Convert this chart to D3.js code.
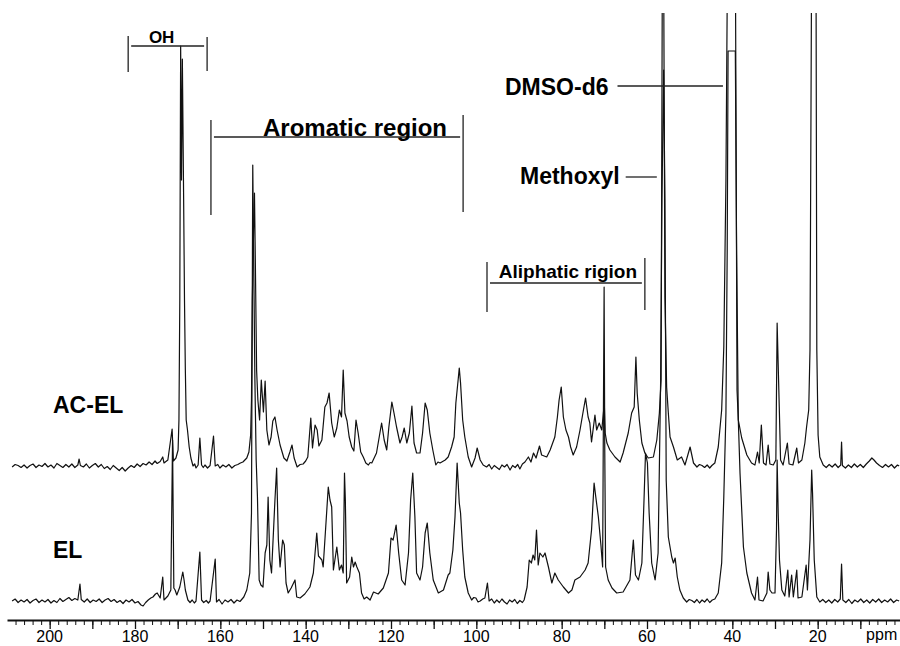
<!DOCTYPE html>
<html>
<head>
<meta charset="utf-8">
<script src="https://cdn.jsdelivr.net/npm/d3@7"></script>
<style>
body { margin: 0; background: #fff; }
svg { display: block; }
</style>
</head>
<body>
<svg id="chart"></svg>
<script>
// 13C NMR traces, [ppm, intensity] (arbitrary units)
var acelSpectrum = [
  [208.8,-0.2],[208.1,0.3],[207.4,0.1],[206.7,-0.3],[206.0,0.2],[205.3,-0.4],[204.6,0.1],[203.9,0.4],[203.2,-0.3],[202.5,0.2],
  [201.8,-0.1],[201.1,0.5],[200.4,-0.2],[199.7,0.2],[199.0,-0.4],[198.3,0.5],[197.6,0.1],[196.9,-0.3],[196.2,0.3],[195.5,-0.2],
  [194.8,0.4],[194.1,-0.3],[193.4,0.2],[193.1,1.4],[192.8,0.1],[192.1,-0.2],[191.4,0.4],[190.7,-0.4],[190.0,0.1],[189.3,0.5],
  [188.6,-0.2],[187.9,0.3],[187.2,-0.5],[186.5,-0.1],[185.8,-0.7],[185.1,0.1],[184.4,-0.4],[183.7,-0.9],[183.0,-0.3],[182.3,-1.0],
  [181.6,-0.4],[180.9,0.1],[180.2,-0.3],[179.5,0.4],[178.8,-0.1],[178.1,0.5],[177.4,0.2],[176.7,0.8],[176.0,0.3],[175.3,1.0],
  [174.8,0.5],[174.1,0.9],[173.5,1.8],[173.2,0.6],[172.3,1.2],[171.3,7.4],
  [171.0,1.0],[170.4,1.6],[169.9,3.2],[169.7,9.2],[169.5,33.2],[169.3,84],[169.1,57.2],[168.9,81.4],[168.6,53.2],[168.4,33.2],
  [168.2,19.2],[168.0,9.2],[167.7,7.2],[167.3,3.8],[166.9,1.6],[166.4,0],[166.0,0.4],[165.7,-0.4],[165.2,0.2],[164.8,5.6],
  [164.4,0.2],[164.0,-0.3],[163.6,0.2],[163.0,-0.4],[162.4,0.1],[161.6,6.0],[161.2,0],[160.6,0.3],[160.1,-0.4],[159.4,0.2],
  [158.7,-0.2],[158.0,0.3],[157.3,-0.4],[156.6,0.1],[155.9,0.3],[155.3,0.6],[154.7,0.8],[153.8,1.6],
  [153.3,2.8],[152.9,6.2],[152.7,13.2],[152.5,33.2],[152.2,47.2],[152.0,54.6],[151.8,41.2],[151.5,19.2],[151.2,13.2],[150.8,9.2],
  [150.4,17.2],[149.9,10.8],[149.5,17.0],[149.1,7.2],[148.6,4.2],[148.1,5.8],[147.7,9.0],[147.2,9.8],[146.7,7.2],[146.0,4.2],
  [145.1,1.6],[144.4,1.0],[143.7,2.8],[143.2,4.2],[142.7,1.6],[142.0,-0.2],[141.3,0.3],[140.6,0.4],[140.0,1.0],[139.5,1.8],[138.8,9.6],[138.4,3.6],
  [137.8,8.2],[137.3,7.2],[136.9,4.0],[136.2,5.2],[135.5,11.8],[135.0,12.6],[134.5,14.6],[133.9,8.6],[133.3,5.8],[132.7,7.6],
  [132.1,11.2],[131.6,9.8],[131.2,19.2],[130.8,10.6],[130.3,9.0],[129.8,5.8],[129.2,3.8],[128.7,3.0],[128.2,9.2],[127.7,6.6],
  [127.1,2.8],[126.5,1.8],[125.9,0.6],[125.3,0.2],[124.9,0.7],[124.5,0.6],[123.4,2.6],[122.6,6.6],[122.2,8.6],[121.6,5.2],[121.0,3.2],[120.5,7.8],
  [119.8,12.8],[119.3,10.6],[118.7,7.8],[117.9,4.6],[117.4,5.8],[116.9,7.6],[116.3,4.6],[115.7,6.6],[115.1,12.0],[114.6,4.6],
  [114.0,2.6],[113.2,2.6],[112.6,6.6],[112.0,12.6],[111.5,11.2],[110.9,6.6],[110.2,3.2],[109.5,0.2],[109.0,0.8],[108.5,0.6],[107.3,1.2],
  [106.6,1.8],[105.8,3.8],[105.2,5.8],[104.8,12.6],[104.2,17.8],[104.0,19.6],[103.7,16.6],[103.2,9.2],[102.7,5.8],[101.9,1.8],
  [101.1,-0.2],[100.3,1.6],[99.8,3.6],[99.1,1.2],[98.4,0.2],[97.6,-0.2],[97.0,0.3],[96.4,-0.6],[95.8,0.1],[95.2,-0.3],
  [94.6,-0.7],[94.0,0.2],[93.4,-0.2],[92.8,0.3],[92.1,-0.8],[91.5,0.1],[90.9,-0.3],[90.3,0.3],[89.8,-0.6],[89.2,0.4],
  [88.6,0.8],[87.8,1.8],[87.2,0.8],[86.6,2.6],[86.0,1.6],[85.2,4.0],[84.7,2.2],
  [83.5,1.8],[82.7,3.2],[81.6,5.8],[81.0,9.8],[80.6,13.2],[80.1,15.8],[79.6,9.8],[79.0,7.2],[78.4,5.8],[77.9,3.8],
  [77.3,2.2],[76.5,3.8],[75.7,7.2],[74.9,11.2],[74.4,13.6],[73.8,9.8],[73.4,8.6],[73.0,4.8],[72.2,10.2],[71.8,7.2],
  [71.2,8.6],[70.6,7.2],[70.2,10.8],[70.0,12.2],[69.8,6.6],[69.4,4.6],[68.7,3.2],[67.5,1.8],[66.3,0.8],[65.6,2.6],
  [64.4,6.6],[63.6,10.6],[63.0,11.8],[62.6,21.8],[62.3,14.6],[61.8,9.2],[61.2,4.6],[60.5,2.6],[59.7,1.6],[58.5,1.8],
  [57.7,5.2],[57.1,10.6],[56.7,17.2],[56.4,101.2],[56.1,101.2],[55.8,33.8],[55.4,15.8],[55.0,10.6],[54.6,5.8],[53.8,3.8],
  [52.9,1.2],[51.9,1.8],[51.1,0.2],[49.9,3.8],[49.1,0.6],[48.3,-0.2],[47.7,0.3],[47.1,0.1],[46.5,-0.3],[45.9,0.2],
  [45.3,-0.4],[44.8,0.1],[44.1,0.6],
  [43.3,3.8],[42.5,11.2],[42.0,23.8],[41.5,57.2],[41.1,105.2],[39.3,105.2],[38.9,15.2],[38.6,9.2],[37.8,5.6],[36.6,2.2],
  [35.5,0.6],[34.7,0.2],[34.1,2.8],[33.7,0.6],[33.2,8.2],[32.7,0.6],[32.1,0.2],[31.6,4.2],[31.2,0.4],[30.4,0.2],
  [29.8,1.2],[29.5,28.6],[29.0,11.8],[28.7,1.2],[28.1,0.2],[27.1,4.6],[26.7,0.4],[25.8,0.2],[24.9,3.6],[24.5,0.6],
  [23.7,1.2],[23.0,4.6],[22.6,7.8],[22.1,11.2],[21.8,23.2],[21.4,105.2],[20.4,105.2],[20.2,23.2],[19.9,6.2],[19.5,1.8],
  [18.7,0.2],[18.0,-0.3],[17.3,0.3],[16.6,-0.2],[15.9,0.4],[15.2,-0.3],[14.6,0.2],[14.4,4.8],[14.2,0.1],[13.5,-0.4],
  [12.8,0.2],[12.1,-0.3],[11.4,0.4],[10.7,-0.2],[10.0,0.3],[9.3,-0.3],[8.6,0.4],[7.9,1.0],[7.3,1.6],[6.8,1.2],
  [6.2,0.6],[5.5,0.1],[4.8,-0.3],[4.1,0.3],[3.4,-0.2],[2.7,0.3],[2.0,-0.4],[1.3,0.2],[0.9,0]
];

var elSpectrum = [
  [208.8,0],[208.1,0.4],[207.4,-0.3],[206.7,0.2],[206.0,-0.2],[205.3,0.3],[204.6,-0.4],[203.9,0.1],[203.2,0.4],[202.5,-0.3],
  [201.8,0.2],[201.1,-0.2],[200.4,0.3],[199.7,-0.4],[199.0,0.1],[198.3,-0.3],[197.6,0.5],[196.9,-0.1],[196.2,0.3],[195.5,0.7],
  [194.8,0.1],[194.1,0.5],[193.4,0.2],[192.9,3.4],[192.6,0.3],[191.9,-0.2],[191.2,0.4],[190.5,-0.3],[189.8,0.2],[189.1,-0.1],
  [188.4,0.4],[187.7,-0.3],[187.0,0.2],[186.3,0.5],[185.6,-0.1],[184.9,0.3],[184.2,-0.3],[183.5,0.1],[182.8,-0.5],[182.1,0.2],
  [181.4,-0.2],[180.7,0.3],[180.0,-0.4],[179.3,-0.1],[178.6,-0.8],[178.1,-1.0],[177.5,-0.3],[176.9,0.2],[176.3,0.6],[175.8,0.8],
  [175.2,1.4],[174.8,1.6],[174.1,0.6],[173.5,4.8],[173.2,0.2],
  [172.3,1.0],[171.6,2.2],[171.2,32.2],[170.9,2.6],[170.6,2.2],[170.2,1.2],[169.5,2.8],[168.8,5.8],[168.5,4.2],[168.2,2.2],
  [167.6,0.2],[167.1,-0.3],[166.6,0.2],[166.1,-0.4],[165.7,0],[164.8,9.8],[164.4,0.2],[163.9,-0.3],[163.3,0.1],[162.8,-0.4],
  [162.4,0],[161.2,8.4],[160.9,-0.2],[160.3,0.3],[159.6,-0.6],[158.9,0.2],[158.2,-0.2],[157.5,0.3],[156.8,-0.4],[156.1,0.2],
  [155.4,-0.1],[154.5,0.8],[153.8,2.2],[153.1,5.6],[152.7,17.6],[152.4,87.2],[152.2,70.2],[151.9,44.2],
  [151.6,28.2],[151.3,20.8],[150.9,4.2],[150.5,3.2],[150.0,2.8],[149.5,9.6],[149.1,11.2],[148.8,20.8],[148.4,8.2],[148.0,5.6],
  [147.2,20.2],[146.8,26.6],[146.4,12.2],[146.0,6.8],[145.4,12.2],[145.0,11.2],[144.6,3.6],[144.1,1.6],[143.4,2.6],[142.5,4.2],
  [142.1,0.8],[141.3,0.6],[140.2,1.4],[139.0,2.8],[138.2,5.6],[137.4,13.6],[137.0,9.0],[136.2,8.2],[135.9,6.8],[135.3,14.8],
  [134.7,22.8],[134.3,20.2],[133.9,18.8],[133.5,6.2],[132.7,10.8],[132.1,6.2],[131.6,7.2],[131.2,5.6],[130.9,25.6],[130.7,20.2],
  [130.4,3.6],[129.7,4.8],[129.2,8.8],[128.8,6.8],[128.4,7.8],[128.0,6.8],[127.4,5.6],[126.9,1.6],[126.3,0.4],[125.7,0.8],[124.9,0.2],[124.1,1.8],
  [123.0,1.4],[121.8,2.6],[120.6,5.6],[120.0,12.6],[119.5,12.2],[118.8,15.2],[118.2,9.6],[117.5,4.2],[116.7,3.2],[115.9,9.6],
  [115.4,20.2],[114.9,25.6],[114.4,16.8],[114.0,5.6],[113.2,4.2],[112.6,6.8],[112.0,13.6],[111.5,15.6],[110.9,9.6],[110.1,4.2],
  [108.9,1.6],[107.7,2.2],[106.6,5.2],[106.2,5.6],[105.5,10.2],[105.0,16.8],[104.5,27.6],[104.0,19.6],[103.7,17.6],[103.2,10.2],
  [102.7,4.8],[101.9,1.6],[101.1,0.2],[100.6,0.7],[100.1,0.6],[99.6,-0.2],[99.1,0],[98.5,0.4],[98.0,0.6],[97.4,3.6],
  [97.0,0],[96.4,0.4],[95.8,-0.4],[95.2,0.2],[94.6,-0.3],[94.0,0.4],[93.4,-0.2],[92.8,-0.6],[92.2,0.2],[91.6,-0.2],
  [91.0,0.3],[90.4,-0.5],[89.8,0.1],[89.2,-0.3],[88.8,0.2],
  [88.1,2.8],[87.6,8.2],[87.1,7.6],[86.7,9.2],[86.3,8.2],[85.9,14.2],
  [85.5,7.2],[85.1,9.6],[84.4,8.8],[83.9,9.6],[83.1,6.8],[82.3,3.6],[81.6,5.6],[80.8,4.2],[79.6,2.8],[78.4,1.6],
  [77.6,2.2],[76.9,4.2],[75.7,4.8],[74.5,6.2],[73.8,7.6],[73.0,14.2],[72.4,23.6],[72.0,20.8],[71.4,16.8],[70.8,11.2],
  [70.4,6.8],[70.2,40.2],[70.05,62.8],[69.9,30.2],[69.7,6.8],[69.1,4.2],[68.2,2.6],[67.1,1.6],[65.6,1.8],[64.0,4.2],
  [63.2,12.2],[62.7,5.2],[62.0,4.2],[61.2,7.6],[60.7,20.2],[60.35,29.6],[59.9,27.6],[59.5,17.6],[58.9,7.6],[58.1,4.2],
  [57.4,9.6],[56.8,44.2],[56.5,80.2],[56.1,106.2],[55.8,80.2],[55.5,24.2],[55.0,12.8],[54.2,8.8],[53.8,7.6],[53.4,8.6],
  [52.9,4.8],[52.3,2.2],[51.5,0.6],[50.7,-0.2],[50.1,0.3],[49.5,0.1],[48.9,-0.3],[48.3,0.3],[47.7,-0.4],[47.1,0.2],
  [46.5,-0.2],[45.9,0.4],[45.3,-0.3],[44.7,0.2],[44.1,0.4],[43.3,1.6],[42.5,7.6],
  [42.0,20.8],[41.5,37.6],[41.2,70.2],[41.0,110],[39.3,110],[39.0,70.2],[38.6,36.2],[38.2,25.6],[37.4,10.8],[36.6,5.6],
  [35.5,1.6],[34.7,0.2],[34.1,4.8],[33.75,0.2],[32.8,0],[31.9,1.6],[31.6,5.8],[31.2,2.2],[30.7,1.6],[30.0,1.6],
  [29.65,14.2],[29.5,28.2],[29.25,17.6],[28.95,8.2],[28.4,2.2],[27.7,1.0],[27.0,6.2],[26.7,0.8],[26.1,5.2],[25.7,0.8],
  [24.9,6.2],[24.6,0.6],[23.7,0.8],[22.7,7.2],[22.4,2.2],[21.8,12.2],[21.4,26.2],[21.2,21.6],[20.8,8.2],[20.2,0.8],
  [19.5,-0.2],[18.8,0.3],[18.1,-0.3],[17.4,0.2],[16.7,-0.4],[16.0,0.3],[15.3,-0.2],[14.7,0.4],[14.4,7.4],[14.1,0.2],
  [13.4,-0.3],[12.7,0.3],[12.0,-0.5],[11.3,0.2],[10.6,-0.2],[9.9,0.4],[9.2,-0.3],[8.5,0.2],[7.8,-0.4],[7.1,0.3],
  [6.4,-0.2],[5.7,0.4],[5.0,-0.3],[4.3,0.2],[3.6,-0.2],[2.9,0.4],[2.2,-0.3],[1.5,0.2],[0.9,0]
];

var spectrumNames = ["AC-EL", "EL"];
var tickLabels = [200, 180, 160, 140, 120, 100, 80, 60, 40, 20];
var axisUnit = "ppm";

// bracketed regions, [from ppm, to ppm]
var regionNames = ["OH", "Aromatic region", "Aliphatic rigion"];
var regionBounds = [[181.6, 163.1], [162.2, 103.1], [97.5, 60.5]];

// labels with a leader line ending at this ppm
var pointerNames = ["DMSO-d6", "Methoxyl"];
var pointerEnds = [42.2, 57.7];

var width = 900, height = 646;
var font = "'Liberation Sans', Arial, Helvetica, sans-serif";

var x = d3.scaleLinear().domain([210, 0]).range([7, 903]);
var y = d3.scaleLinear().domain([0, 100]).range([0, 500]);
var baselines = [466, 601];
var axisY = 620;

var svg = d3.select("#chart").attr("width", width).attr("height", height);

svg.append("defs").append("clipPath").attr("id", "plotClip")
  .append("rect")
  .attr("x", 0).attr("y", 13)
  .attr("width", width).attr("height", height - 13);

// spectra
var spectra = [acelSpectrum, elSpectrum];

function traceLine(base) {
  return d3.line()
    .x(function(d) { return x(d[0]); })
    .y(function(d) { return base - y(d[1]); });
}

svg.append("g").attr("clip-path", "url(#plotClip)")
  .selectAll("path")
  .data(spectra)
  .enter()
  .append("path")
  .attr("d", function(d, i) { return traceLine(baselines[i])(d); })
  .attr("fill", "none")
  .attr("stroke", "#111")
  .attr("stroke-width", 1.2)
  .attr("stroke-linejoin", "round");

// spectrum names
var namePos = [[53, 413], [53, 558]];
svg.selectAll(".specName")
  .data(spectrumNames)
  .enter()
  .append("text")
  .attr("class", "specName")
  .attr("x", function(d, i) { return namePos[i][0]; })
  .attr("y", function(d, i) { return namePos[i][1]; })
  .style("font-family", font)
  .style("font-weight", "bold")
  .style("font-size", "23px")
  .text(function(d) { return d; });

// x axis: minor ticks every 2 ppm, longer every 10
var axisG = svg.append("g").attr("transform", "translate(0," + axisY + ")");

axisG.call(d3.axisBottom(x)
    .tickValues(d3.range(2, 210, 2))
    .tickSize(5)
    .tickSizeOuter(0)
    .tickFormat(""));
axisG.select(".domain").attr("stroke-width", 2).attr("stroke", "#111");
axisG.selectAll(".tick line").attr("stroke", "#111");

var majorG = svg.append("g").attr("transform", "translate(0," + axisY + ")");
majorG.call(d3.axisBottom(x)
    .tickValues(d3.range(10, 210, 10))
    .tickSize(9)
    .tickSizeOuter(0)
    .tickFormat(""));
majorG.select(".domain").remove();
majorG.selectAll(".tick line").attr("stroke", "#111").attr("stroke-width", 1.3);

svg.append("g").selectAll("text")
  .data(tickLabels)
  .enter()
  .append("text")
  .attr("x", function(d) { return x(d); })
  .attr("y", 642)
  .attr("text-anchor", "middle")
  .style("font-family", font)
  .style("font-size", "16px")
  .text(function(d) { return d; });

svg.append("text")
  .attr("x", x(5))
  .attr("y", 640)
  .attr("text-anchor", "middle")
  .style("font-family", font)
  .style("font-size", "16px")
  .text(axisUnit);

// region brackets
var bracketLayout = [
  { bar: 46, left: [36, 72], right: [37, 71], textY: 43, dx: -6, size: 17 },
  { bar: 137, left: [120, 215], right: [115, 212], textY: 136, dx: 18, size: 24 },
  { bar: 283, left: [262, 312], right: [258, 310], textY: 278, dx: 2, size: 19 }
];

var ann = svg.append("g");

regionNames.forEach(function(name, i) {
  var b = regionBounds[i], L = bracketLayout[i];
  var x1 = x(b[0]), x2 = x(b[1]);
  ann.append("line")
    .attr("x1", x1).attr("x2", x1)
    .attr("y1", L.left[0]).attr("y2", L.left[1]);
  ann.append("line")
    .attr("x1", x2).attr("x2", x2)
    .attr("y1", L.right[0]).attr("y2", L.right[1]);
  ann.append("line")
    .attr("x1", x1 + 3).attr("x2", x2 - 3)
    .attr("y1", L.bar).attr("y2", L.bar);
  ann.append("text")
    .attr("x", (x1 + x2) / 2 + L.dx)
    .attr("y", L.textY)
    .attr("text-anchor", "middle")
    .style("font-family", font)
    .style("font-weight", "bold")
    .style("font-size", L.size + "px")
    .attr("stroke", "none")
    .text(name);
});

// DMSO-d6 and Methoxyl labels with leader lines
var pointerLayout = [
  { textX: 505, textY: 95, lineY: 86, gap: 9 },
  { textX: 520, textY: 184, lineY: 177, gap: 6 }
];

pointerNames.forEach(function(name, i) {
  var P = pointerLayout[i];
  var t = ann.append("text")
    .attr("x", P.textX)
    .attr("y", P.textY)
    .style("font-family", font)
    .style("font-weight", "bold")
    .style("font-size", "23px")
    .attr("stroke", "none")
    .text(name);
  var w = t.node().getComputedTextLength();
  ann.append("line")
    .attr("x1", P.textX + w + P.gap).attr("x2", x(pointerEnds[i]))
    .attr("y1", P.lineY).attr("y2", P.lineY);
});

ann.selectAll("line").attr("stroke", "#222").attr("stroke-width", 1.3);
</script>
</body>
</html>
